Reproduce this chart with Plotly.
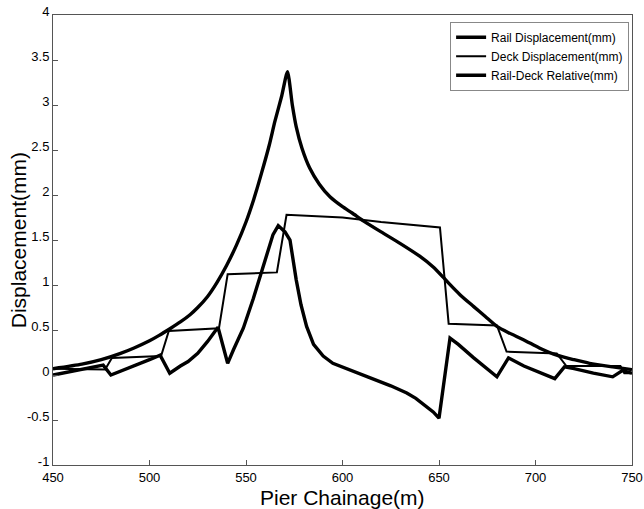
import plotly.graph_objects as go

# Rail displacement (mm)
rail_x = [450, 465, 475, 485, 492, 500, 505, 511, 516, 521, 525, 530, 535, 540, 545,
          550, 554, 558, 562, 565, 568.5, 571.5, 574, 576, 579, 583, 588, 593.5, 600,
          605, 611, 620, 630, 640, 647, 652, 655, 661, 668, 674, 680, 686, 694, 702,
          711, 720, 728, 740, 750]
rail_y = [0.07, 0.12, 0.17, 0.24, 0.30, 0.38, 0.44, 0.52, 0.59, 0.67, 0.75, 0.87, 1.03,
          1.22, 1.44, 1.70, 1.95, 2.24, 2.55, 2.82, 3.10, 3.37, 3.00, 2.76, 2.52, 2.30,
          2.12, 1.98, 1.87, 1.80, 1.71, 1.59, 1.46, 1.32, 1.20, 1.09, 1.02, 0.89, 0.76,
          0.65, 0.54, 0.47, 0.39, 0.30, 0.22, 0.17, 0.13, 0.09, 0.06]

# Deck displacement (mm)
deck_x = [450, 477, 480.5, 506, 510, 536, 540.5, 566, 571, 600, 620, 650.5, 655, 680,
          685, 711, 716, 744, 746, 750]
deck_y = [0.07, 0.06, 0.19, 0.21, 0.49, 0.52, 1.12, 1.14, 1.78, 1.75, 1.70, 1.64, 0.57,
          0.55, 0.26, 0.24, 0.10, 0.10, 0.02, 0.02]

# Rail-Deck relative (mm)
rel_x = [450, 465, 476, 480, 485, 492, 500, 505.5, 510.5, 516, 520, 525, 530, 535.5,
         540.5, 543.5, 548.6, 553.8, 560.7, 564, 566.7, 570.2, 572.8, 576, 578.5, 581.4,
         585, 590, 595, 603, 610, 617.7, 625, 633.3, 638, 643.6, 647, 650, 655.7, 660,
         668, 680, 686, 694, 700, 710, 715, 720, 730, 740, 745, 750]
rel_y = [0.0, 0.06, 0.11, 0.0, 0.04, 0.10, 0.17, 0.22, 0.02, 0.10, 0.15, 0.24, 0.37, 0.53,
         0.13, 0.28, 0.52, 0.85, 1.32, 1.56, 1.66, 1.59, 1.50, 1.06, 0.78, 0.54, 0.34,
         0.21, 0.13, 0.06, 0.0, -0.06, -0.12, -0.20, -0.26, -0.35, -0.41, -0.48, 0.41,
         0.34, 0.19, -0.02, 0.19, 0.10, 0.05, -0.04, 0.09, 0.07, 0.02, -0.02, 0.05, 0.02]

x_ticks = [450, 500, 550, 600, 650, 700, 750]
x_labels = ["450", "500", "550", "600", "650", "700", "750"]
y_ticks = [-1, -0.5, 0, 0.5, 1, 1.5, 2, 2.5, 3, 3.5, 4]
y_labels = ["-1", "-0.5", "0", "0.5", "1", "1.5", "2", "2.5", "3", "3.5", "4"]
x_title = "Pier Chainage(m)"
y_title = "Displacement(mm)"

fig = go.Figure()
fig.add_trace(go.Scatter(x=rail_x, y=rail_y, mode="lines", name="Rail Displacement(mm)",
                         line=dict(color="black", width=3.4, shape="spline", smoothing=0.6)))
fig.add_trace(go.Scatter(x=deck_x, y=deck_y, mode="lines", name="Deck Displacement(mm)",
                         line=dict(color="black", width=2)))
fig.add_trace(go.Scatter(x=rel_x, y=rel_y, mode="lines", name="Rail-Deck Relative(mm)",
                         line=dict(color="black", width=3.4)))

font = "Liberation Sans, Arial, sans-serif"
fig.update_layout(
    width=644, height=509,
    margin=dict(l=53, r=12, t=15, b=44),
    paper_bgcolor="white", plot_bgcolor="white",
    font=dict(family=font, color="black", size=13),
    showlegend=True,
    legend=dict(x=0.995, y=0.985, xanchor="right", yanchor="top",
                bgcolor="white", bordercolor="#888", borderwidth=1,
                font=dict(size=12, family=font), tracegroupgap=0,
                itemwidth=30),
    xaxis=dict(range=[450, 750], tickvals=x_ticks, ticktext=x_labels,
               showline=True, mirror=True, linecolor="#555", linewidth=1,
               ticks="inside", ticklen=5, tickcolor="#555",
               showgrid=False, zeroline=False,
               automargin=False, tickfont=dict(size=13)),
    yaxis=dict(range=[-1, 4], tickvals=y_ticks, ticktext=y_labels,
               showline=True, mirror=True, linecolor="#555", linewidth=1,
               ticks="inside", ticklen=5, tickcolor="#555",
               showgrid=False, zeroline=False, automargin=False,
               ticklabelshift=-4, tickfont=dict(size=13)),
    annotations=[
        dict(text=x_title, xref="paper", yref="paper", x=0.5, y=-0.073,
             xanchor="center", yanchor="middle", showarrow=False,
             font=dict(size=21, family=font)),
        dict(text=y_title, xref="paper", yref="paper", x=-0.06, y=0.5,
             xanchor="center", yanchor="middle", textangle=-90, showarrow=False,
             font=dict(size=21, family=font)),
    ],
)

fig.write_html("out.html")
